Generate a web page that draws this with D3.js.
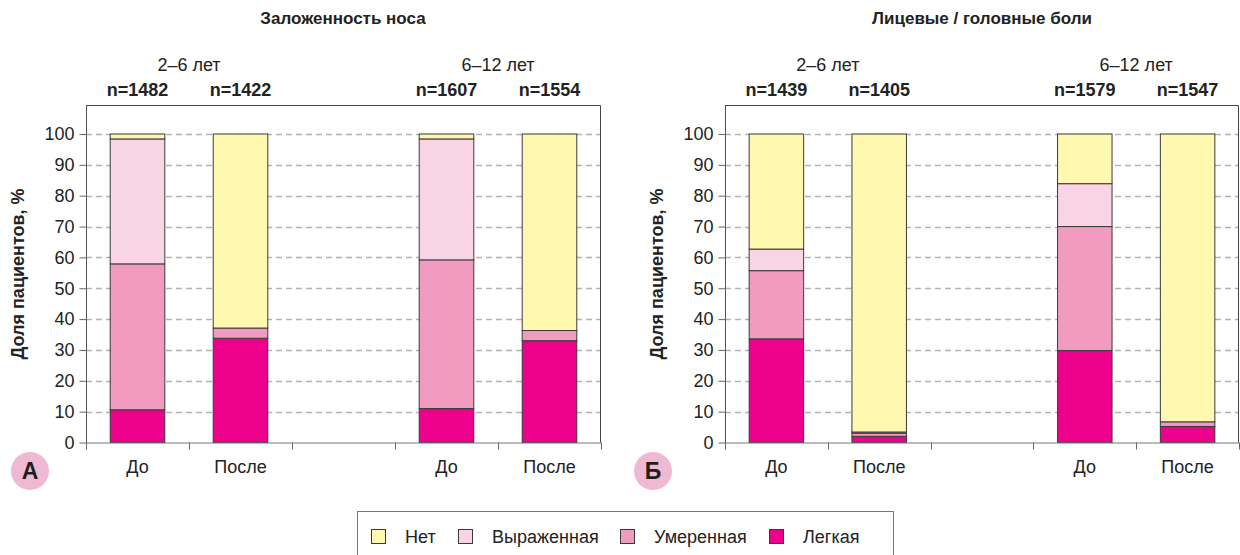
<!DOCTYPE html>
<html>
<head>
<meta charset="utf-8">
<script src="https://cdn.jsdelivr.net/npm/d3@7"></script>
<style>
  html, body { margin: 0; padding: 0; background: #fff; }
  svg { display: block; font-family: "Liberation Sans", Arial, sans-serif; }
</style>
</head>
<body>
<svg id="chart" width="1240" height="555"></svg>
<script>
// Category slots along the x axis (the middle slot is an empty spacer)
const slots = ["s0", "s1", "s2", "s3", "s4"];
const slotLabels = ["До", "После", "", "До", "После"];
const barSlots = ["s0", "s1", "s3", "s4"];
const ageGroups = ["2–6 лет", "6–12 лет"];
const yTicks = [0, 10, 20, 30, 40, 50, 60, 70, 80, 90, 100];

// Severity series, bottom to top of each stack
const seriesKeys = ["Легкая", "Умеренная", "Выраженная", "Нет"];
const legendOrder = ["Нет", "Выраженная", "Умеренная", "Легкая"];
const seriesColors = ["#ec008c", "#f29bc1", "#f9d4e4", "#fff8b0"];

// Panel А — nasal congestion, % of patients (До / После per age group)
const titleA = "Заложенность носа";
const nA = [1482, 1422, 1607, 1554];
const legkayaA = [10.6, 33.8, 11.0, 33.0];
const umerennayaA = [47.3, 3.3, 48.2, 3.3];
const vyrazhennayaA = [40.5, 0, 39.2, 0];
const netA = [1.6, 62.9, 1.6, 63.7];

// Panel Б — facial pain / headache
const titleB = "Лицевые / головные боли";
const nB = [1439, 1405, 1579, 1547];
const legkayaB = [33.6, 2.0, 29.8, 5.2];
const umerennayaB = [22.1, 1.0, 40.2, 1.5];
const vyrazhennayaB = [7.0, 0.4, 13.9, 0];
const netB = [37.3, 96.6, 16.1, 93.3];

const svg = d3.select("#chart");
const color = d3.scaleOrdinal().domain(seriesKeys).range(seriesColors);

function rows(legk, umer, vyr, net) {
  return barSlots.map((s, i) => ({
    slot: s,
    "Легкая": legk[i], "Умеренная": umer[i], "Выраженная": vyr[i], "Нет": net[i]
  }));
}

function drawPanel(opt) {
  const g = svg.append("g");
  const x = d3.scaleBand().domain(slots).range([opt.left, opt.right]).padding(0);
  const y = d3.scaleLinear().domain([0, 100]).range([442.5, 134]);
  const top = 105;
  const bw = x.bandwidth() * 0.53;
  const bx = s => x(s) + (x.bandwidth() - bw) / 2;

  // dashed gridlines
  g.append("g").selectAll("line").data(yTicks.filter(d => d > 0)).join("line")
    .attr("x1", opt.left).attr("x2", opt.right)
    .attr("y1", d => Math.round(y(d)) + 0.5).attr("y2", d => Math.round(y(d)) + 0.5)
    .attr("stroke", "#b3b3b3").attr("stroke-width", 1.4).attr("stroke-dasharray", "6,4");

  // stacked bars
  const stacked = d3.stack().keys(seriesKeys)(opt.data);
  g.append("g").selectAll("g").data(stacked).join("g")
    .attr("fill", d => color(d.key))
    .selectAll("rect").data(d => d).join("rect")
    .attr("x", d => bx(d.data.slot))
    .attr("width", bw)
    .attr("y", d => y(d[1]))
    .attr("height", d => y(d[0]) - y(d[1]))
    .attr("stroke", "#3a3a3a").attr("stroke-width", 1);

  // frame: top and right edges
  g.append("path")
    .attr("d", `M${opt.left + 0.5},${top + 0.5}H${opt.right - 0.5}V${y(0)}`)
    .attr("fill", "none").attr("stroke", "#444").attr("stroke-width", 1);

  // y axis
  const yAxis = d3.axisLeft(y).tickValues(yTicks).tickSize(7).tickPadding(5);
  const ya = g.append("g").attr("transform", `translate(${opt.left + 0.5},0)`).call(yAxis);
  ya.select(".domain").attr("d", `M0,${top}V${y(0) + 7}`).attr("stroke", "#555");
  ya.selectAll(".tick line").attr("stroke", "#666");
  ya.selectAll("text").attr("font-size", 18).attr("fill", "#222")
    .attr("font-family", "Liberation Sans, Arial, sans-serif");

  // x axis: ticks at slot boundaries, labels in slot centres
  const boundaries = slots.map(s => x(s)).concat([opt.right]);
  const xa = g.append("g");
  xa.append("line").attr("x1", opt.left).attr("x2", opt.right)
    .attr("y1", y(0) + 0.5).attr("y2", y(0) + 0.5).attr("stroke", "#777");
  xa.selectAll("line.tk").data(boundaries).join("line").attr("class", "tk")
    .attr("x1", d => Math.round(d) + 0.5).attr("x2", d => Math.round(d) + 0.5)
    .attr("y1", y(0)).attr("y2", y(0) + 7).attr("stroke", "#666");
  xa.selectAll("text").data(slots).join("text")
    .attr("x", s => x(s) + x.bandwidth() / 2).attr("y", 473)
    .attr("text-anchor", "middle").attr("font-size", 18).attr("fill", "#222")
    .text((s, i) => slotLabels[i]);

  // panel title
  g.append("text").attr("x", opt.titleX).attr("y", 24)
    .attr("text-anchor", "middle").attr("font-size", 17).attr("font-weight", "bold")
    .attr("fill", "#222").text(opt.title);

  // age groups above pairs
  const groupCentres = [x("s1"), x("s4")];
  g.selectAll("text.age").data(ageGroups).join("text").attr("class", "age")
    .attr("x", (d, i) => groupCentres[i]).attr("y", 71)
    .attr("text-anchor", "middle").attr("font-size", 18).attr("fill", "#222").text(d => d);

  // sample sizes above bars
  g.selectAll("text.n").data(opt.n).join("text").attr("class", "n")
    .attr("x", (d, i) => x(barSlots[i]) + x.bandwidth() / 2).attr("y", 96)
    .attr("text-anchor", "middle").attr("font-size", 18).attr("font-weight", "bold")
    .attr("fill", "#222").text(d => "n=" + d);

  // y axis title
  g.append("text")
    .attr("transform", `translate(${opt.yTitleX},274) rotate(-90)`)
    .attr("text-anchor", "middle").attr("font-size", 18).attr("font-weight", "bold")
    .attr("fill", "#222").text("Доля пациентов, %");

  // panel badge
  g.append("circle").attr("cx", opt.badgeX).attr("cy", 471).attr("r", 19).attr("fill", "#f0b9d3");
  g.append("text").attr("x", opt.badgeX).attr("y", 479)
    .attr("text-anchor", "middle").attr("font-size", 23).attr("font-weight", "bold")
    .attr("fill", "#1e1e1e").text(opt.badge);
}

drawPanel({
  left: 86, right: 601, title: titleA, titleX: 343, n: nA, yTitleX: 24,
  badge: "А", badgeX: 30, data: rows(legkayaA, umerennayaA, vyrazhennayaA, netA)
});
drawPanel({
  left: 725, right: 1239, title: titleB, titleX: 982, n: nB, yTitleX: 663,
  badge: "Б", badgeX: 653, data: rows(legkayaB, umerennayaB, vyrazhennayaB, netB)
});

// legend
const lg = svg.append("g");
lg.append("rect").attr("x", 357.5).attr("y", 511.5).attr("width", 536).attr("height", 50)
  .attr("fill", "#fff").attr("stroke", "#777");
const legendX = [371, 458, 620, 769];
const items = lg.selectAll("g").data(legendOrder).join("g")
  .attr("transform", (d, i) => `translate(${legendX[i]},529)`);
items.append("rect").attr("x", 0.5).attr("y", 0.5).attr("width", 14).attr("height", 14)
  .attr("fill", d => color(d)).attr("stroke", "#3a3a3a");
items.append("text").attr("x", 34).attr("y", 14)
  .attr("font-size", 18).attr("fill", "#222").text(d => d);
</script>
</body>
</html>
